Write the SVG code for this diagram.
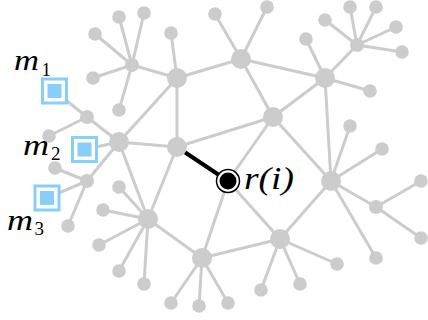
<svg xmlns="http://www.w3.org/2000/svg" width="428" height="320" viewBox="0 0 428 320">
<style>
.e{stroke:#cccccc;stroke-width:3;fill:none;stroke-linecap:round}
.big{fill:#cccccc}
.hub{fill:#cccccc}
.leaf{fill:#cccccc}
.mo{fill:#fff;stroke:#87cefa;stroke-width:3}
.mi{fill:#87cefa}
.lbl{font-family:"Liberation Serif",serif;font-style:italic;font-weight:400;fill:#000}
.sub{font-family:"Liberation Serif",serif;font-weight:400;fill:#000;font-size:19px}
</style>
<rect width="428" height="320" fill="#fff"/>
<g id="connectors">
<path class="e" d="M132,65L119,17M132,65L144,13M132,65L95,34M132,65L93,78M132,65L119,110M132,65L177,78
M177,78L171,33M177,78L241,59M177,78L119,142M177,78L177,147
M241,59L215,14M241,59L267,7M241,59L325,78M241,59L273,117
M325,78L306,39M325,78L357,45M325,78L370,91M325,78L273,117M325,78L331,181
M357,45L325,20M357,45L350,7M357,45L376,7M357,45L396,27M357,45L402,52
M273,117L177,147M273,117L228,181M273,117L331,181
M331,181L350,126M331,181L382,149M331,181L376,207M331,181L376,258M331,181L280,239
M376,207L421,181M376,207L421,238
M280,239L337,264M280,239L300,284M280,239L261,290M280,239L228,181M280,239L202,258
M228,181L202,258
M202,258L171,303M202,258L199,306M202,258L228,303M202,258L148,219
M148,219L119,187M148,219L103,210M148,219L99,245M148,219L119,271M148,219L144,284M148,219L119,142M148,219L177,147
M119,142L87,117M119,142L84.5,149.5M119,142L87,181M119,142L177,147
M87,117L54.5,91M87,117L49,136
M87,181L55,168M87,181L47,198M87,181L68,226"/>
<path d="M177,147L228,181" stroke="#000" stroke-width="4" fill="none"/>
</g>
<g id="big-nodes">
<circle id="n177_78" class="big" cx="177" cy="78" r="10"/>
<circle id="n241_59" class="big" cx="241" cy="59" r="10"/>
<circle id="n325_78" class="big" cx="325" cy="78" r="10"/>
<circle id="n273_117" class="big" cx="273" cy="117" r="10"/>
<circle id="n119_142" class="big" cx="119" cy="142" r="10"/>
<circle id="n177_147" class="big" cx="177" cy="147" r="10"/>
<circle id="n331_181" class="big" cx="331" cy="181" r="10"/>
<circle id="n148_219" class="big" cx="148" cy="219" r="10"/>
<circle id="n280_239" class="big" cx="280" cy="239" r="10"/>
<circle id="n202_258" class="big" cx="202" cy="258" r="10"/>
</g>
<g id="hubs">
<circle id="h132_65" class="hub" cx="132" cy="65" r="7"/>
<circle id="h357_45" class="hub" cx="357" cy="45" r="7"/>
<circle id="h87_117" class="hub" cx="87" cy="117" r="7"/>
<circle id="h87_181" class="hub" cx="87" cy="181" r="7"/>
<circle id="h376_207" class="hub" cx="376" cy="207" r="7"/>
</g>
<g id="leaves">
<circle class="leaf" cx="119" cy="17" r="6.8"/>
<circle class="leaf" cx="144" cy="13" r="6.8"/>
<circle class="leaf" cx="95" cy="34" r="6.8"/>
<circle class="leaf" cx="93" cy="78" r="6.8"/>
<circle class="leaf" cx="119" cy="110" r="6.8"/>
<circle class="leaf" cx="171" cy="33" r="6.8"/>
<circle class="leaf" cx="215" cy="14" r="6.8"/>
<circle class="leaf" cx="267" cy="7" r="6.8"/>
<circle class="leaf" cx="306" cy="39" r="6.8"/>
<circle class="leaf" cx="370" cy="91" r="6.8"/>
<circle class="leaf" cx="325" cy="20" r="6.8"/>
<circle class="leaf" cx="350" cy="7" r="6.8"/>
<circle class="leaf" cx="376" cy="7" r="6.8"/>
<circle class="leaf" cx="396" cy="27" r="6.8"/>
<circle class="leaf" cx="402" cy="52" r="6.8"/>
<circle class="leaf" cx="350" cy="126" r="6.8"/>
<circle class="leaf" cx="382" cy="149" r="6.8"/>
<circle class="leaf" cx="376" cy="258" r="6.8"/>
<circle class="leaf" cx="421" cy="181" r="6.8"/>
<circle class="leaf" cx="421" cy="238" r="6.8"/>
<circle class="leaf" cx="337" cy="264" r="6.8"/>
<circle class="leaf" cx="300" cy="284" r="6.8"/>
<circle class="leaf" cx="261" cy="290" r="6.8"/>
<circle class="leaf" cx="171" cy="303" r="6.8"/>
<circle class="leaf" cx="199" cy="306" r="6.8"/>
<circle class="leaf" cx="228" cy="303" r="6.8"/>
<circle class="leaf" cx="119" cy="187" r="6.8"/>
<circle class="leaf" cx="103" cy="210" r="6.8"/>
<circle class="leaf" cx="99" cy="245" r="6.8"/>
<circle class="leaf" cx="119" cy="271" r="6.8"/>
<circle class="leaf" cx="144" cy="284" r="6.8"/>
<circle class="leaf" cx="49" cy="136" r="6.8"/>
<circle class="leaf" cx="55" cy="168" r="6.8"/>
<circle class="leaf" cx="68" cy="226" r="6.8"/>
</g>
<g id="m1">
<rect class="mo" x="42.5" y="79" width="24" height="24"/>
<rect class="mi" x="47.5" y="84" width="14" height="14"/>
<text class="lbl" x="14" y="70" font-size="30" textLength="25" lengthAdjust="spacingAndGlyphs">m</text><text class="sub" x="41.5" y="76">1</text>
</g>
<g id="m2">
<rect class="mo" x="72.5" y="137.5" width="24" height="24"/>
<rect class="mi" x="77.5" y="142.5" width="14" height="14"/>
<text class="lbl" x="23" y="155" font-size="30" textLength="26" lengthAdjust="spacingAndGlyphs">m</text><text class="sub" x="51" y="160">2</text>
</g>
<g id="m3">
<rect class="mo" x="35" y="186" width="24" height="24"/>
<rect class="mi" x="40" y="191" width="14" height="14"/>
<text class="lbl" x="7" y="230" font-size="30" textLength="26" lengthAdjust="spacingAndGlyphs">m</text><text class="sub" x="34.5" y="235">3</text>
</g>
<g id="ri">
<circle cx="228" cy="181" r="11.5" fill="#fff" stroke="#000" stroke-width="1.5"/>
<circle cx="228" cy="181" r="8.5" fill="#000"/>
<text class="lbl" x="244" y="189" font-size="32" textLength="50" lengthAdjust="spacingAndGlyphs">r(i)</text>
</g>
</svg>
